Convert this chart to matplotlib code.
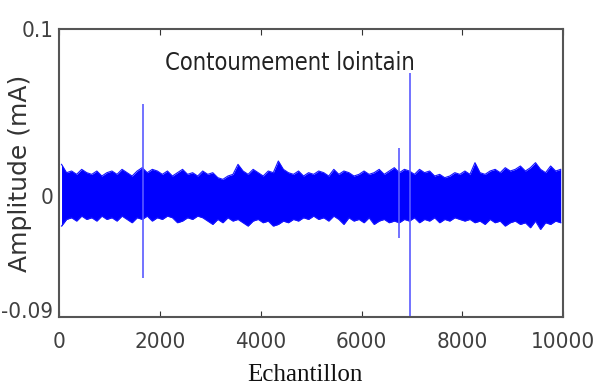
import numpy as np
from matplotlib import pyplot as plt

# sample positions where the envelope of the noisy trace was read
env_pos = np.arange(50, 10000, 100)

# upper edge of the noise band (mA)
env_upper = [
    0.019, 0.014, 0.015, 0.013, 0.016, 0.014, 0.013, 0.015, 0.012, 0.014,
    0.015, 0.013, 0.016, 0.014, 0.012, 0.015, 0.017, 0.014, 0.016, 0.015,
    0.013, 0.015, 0.012, 0.014, 0.016, 0.013, 0.014, 0.012, 0.015, 0.013,
    0.014, 0.011, 0.010, 0.012, 0.013, 0.019, 0.015, 0.013, 0.016, 0.014,
    0.012, 0.015, 0.014, 0.021, 0.016, 0.014, 0.013, 0.015, 0.012, 0.014,
    0.013, 0.015, 0.014, 0.012, 0.016, 0.013, 0.015, 0.014, 0.012, 0.013,
    0.015, 0.013, 0.014, 0.016, 0.013, 0.015, 0.017, 0.014, 0.016, 0.015,
    0.013, 0.016, 0.014, 0.015, 0.012, 0.013, 0.011, 0.012, 0.014, 0.013,
    0.015, 0.013, 0.020, 0.014, 0.013, 0.015, 0.016, 0.014, 0.017, 0.015,
    0.016, 0.018, 0.015, 0.017, 0.020, 0.016, 0.014, 0.018, 0.015, 0.016,
]

# lower edge of the noise band (mA)
env_lower = [
    -0.018, -0.014, -0.013, -0.015, -0.012, -0.014, -0.013, -0.015, -0.012, -0.014,
    -0.013, -0.015, -0.012, -0.014, -0.016, -0.013, -0.014, -0.012, -0.015, -0.013,
    -0.014, -0.012, -0.013, -0.016, -0.015, -0.013, -0.014, -0.012, -0.013, -0.015,
    -0.017, -0.014, -0.016, -0.013, -0.015, -0.014, -0.016, -0.018, -0.015, -0.014,
    -0.016, -0.015, -0.018, -0.017, -0.015, -0.016, -0.014, -0.015, -0.013, -0.014,
    -0.012, -0.014, -0.013, -0.015, -0.012, -0.014, -0.017, -0.013, -0.015, -0.014,
    -0.016, -0.013, -0.017, -0.015, -0.014, -0.016, -0.015, -0.016, -0.014, -0.015,
    -0.013, -0.016, -0.014, -0.015, -0.013, -0.016, -0.014, -0.015, -0.013, -0.014,
    -0.015, -0.014, -0.016, -0.015, -0.017, -0.014, -0.016, -0.015, -0.018, -0.016,
    -0.015, -0.017, -0.016, -0.019, -0.015, -0.020, -0.016, -0.017, -0.015, -0.016,
]

# isolated discharge spikes
spike_pos = [1670, 6750, 6964]
spike_hi = [0.055, 0.029, 0.074]
spike_lo = [-0.049, -0.025, -0.072]

xticks = [0, 2000, 4000, 6000, 8000, 10000]
yticks = [-0.068, 0, 0.1]
ytick_labels = ['-0.09', '0', '0.1']

fig = plt.figure(figsize=(5.96, 3.89), dpi=100)
ax = fig.add_axes([0.099, 0.185, 0.846, 0.740])

# the trace is so dense that it reads as a solid band between its envelopes
ax.fill_between(env_pos, env_lower, env_upper, color='#0000ff', lw=0)
ax.plot(env_pos, env_upper, color='#1515ff', lw=0.8)
ax.plot(env_pos, env_lower, color='#1515ff', lw=0.8)
ax.vlines(spike_pos, spike_lo, spike_hi, color='#5a5aff', lw=1.2)

ax.set_xlim(0, 10000)
ax.set_ylim(-0.0725, 0.1)

tick_font = dict(family='DejaVu Sans', stretch='condensed', fontsize=16, color='#404040')
ax.set_xticks(xticks)
ax.set_xticklabels([str(t) for t in xticks], **tick_font)
ax.set_yticks(yticks)
ax.set_yticklabels(ytick_labels, **tick_font)
ax.tick_params(axis='x', direction='in', length=4, top=True, pad=11, color='#333333')
ax.tick_params(axis='y', length=0, pad=4)

for sp in ax.spines.values():
    sp.set_color('#555555')
    sp.set_linewidth(1.5)

ax.text(0.458, 0.882, 'Contoumement lointain', transform=ax.transAxes,
        ha='center', va='center', family='DejaVu Sans', stretch='condensed',
        fontsize=17, color='#222222')

fig.text(0.033, 0.555, 'Amplitude (mA)', rotation=90, ha='center', va='center',
         family='DejaVu Sans', fontsize=18, color='#333333')
fig.text(0.512, 0.035, 'Echantillon', ha='center', va='center',
         family='Liberation Serif', fontsize=18, color='#111111')

fig.savefig('out.png', dpi=100)
